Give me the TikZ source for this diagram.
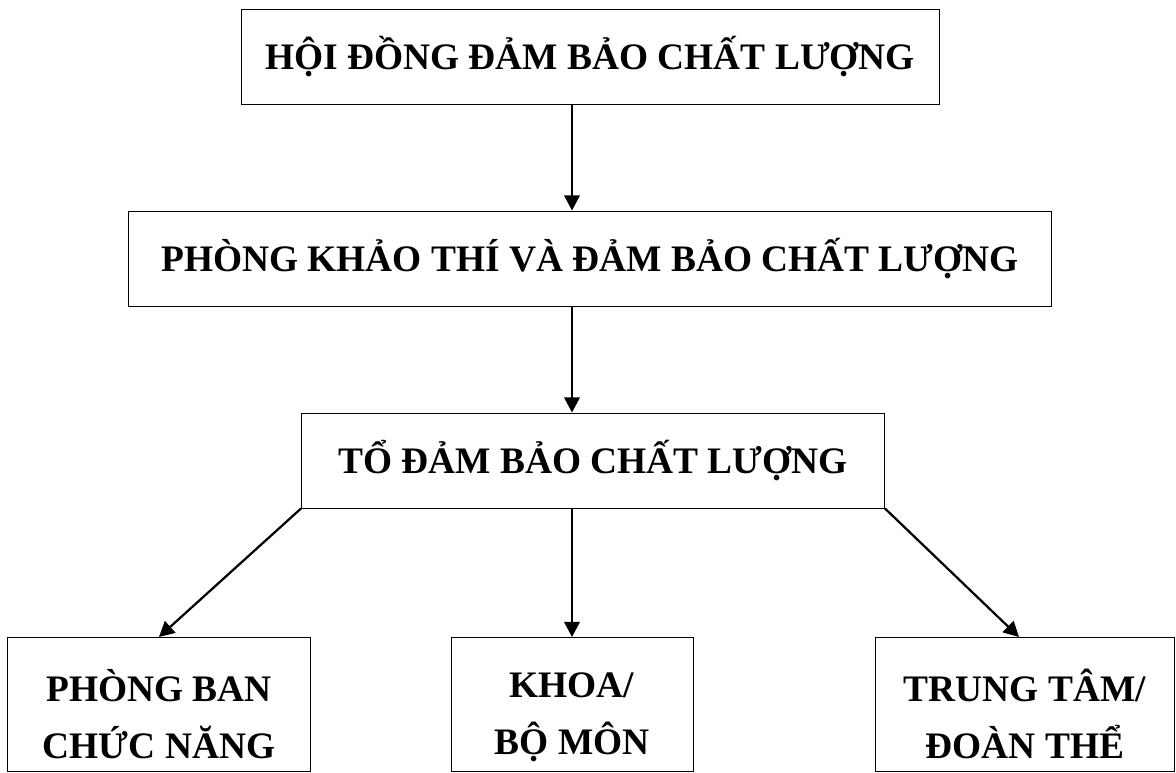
\documentclass[tikz,border=0pt]{standalone}
\usepackage{fontspec}
\setmainfont{Liberation Serif}
\usetikzlibrary{positioning, arrows.meta}

\newcommand\lift{\rule{0pt}{36pt}}

\tikzset{
  box/.style={draw, line width=0.7pt, minimum height=2.375cm, align=center,
    font=\fontsize{26.6}{40.5}\selectfont\bfseries},
  lowbox/.style={box, minimum height=3.35cm},
  link/.style={line width=1.6pt, -{Triangle[length=0.38cm, width=0.39cm]}}
}

\begin{document}
\begin{tikzpicture}[node distance=5.05cm, on grid]
  \useasboundingbox (0,0) rectangle (29.4,-19.3);

  \node[box, minimum width=17.45cm] (hd) at (14.75,-1.4125) {HỘI ĐỒNG ĐẢM BẢO CHẤT LƯỢNG};
  \node[box, minimum width=23.075cm] (pkt) [below=of hd] {PHÒNG KHẢO THÍ VÀ ĐẢM BẢO CHẤT LƯỢNG};
  \node[box, minimum width=14.575cm] (to) [below=of pkt, xshift=0.075cm] {TỔ ĐẢM BẢO CHẤT LƯỢNG};

  \node[lowbox, minimum width=7.575cm] (pb) [below left=6.1cm and 10.85cm of to] {\lift PHÒNG BAN\\CHỨC NĂNG};
  \node[lowbox, minimum width=6.05cm] (kbm) [below=6.1cm of to, xshift=-0.525cm] {\lift KHOA/\\BỘ MÔN};
  \node[lowbox, minimum width=7.475cm] (tt) [below right=6.1cm and 10.8cm of to] {\lift TRUNG TÂM/\\ĐOÀN THỂ};

  \draw[link] (hd.south -| kbm) -- (pkt.north -| kbm);
  \draw[link] (pkt.south -| kbm) -- (to.north -| kbm);
  \draw[link] (to.south -| kbm) -- (kbm.north);
  \draw[link] (to.south west) -- (pb.north);
  \draw[link] (to.south east) -- ([xshift=-0.15cm]tt.north);
\end{tikzpicture}
\end{document}
